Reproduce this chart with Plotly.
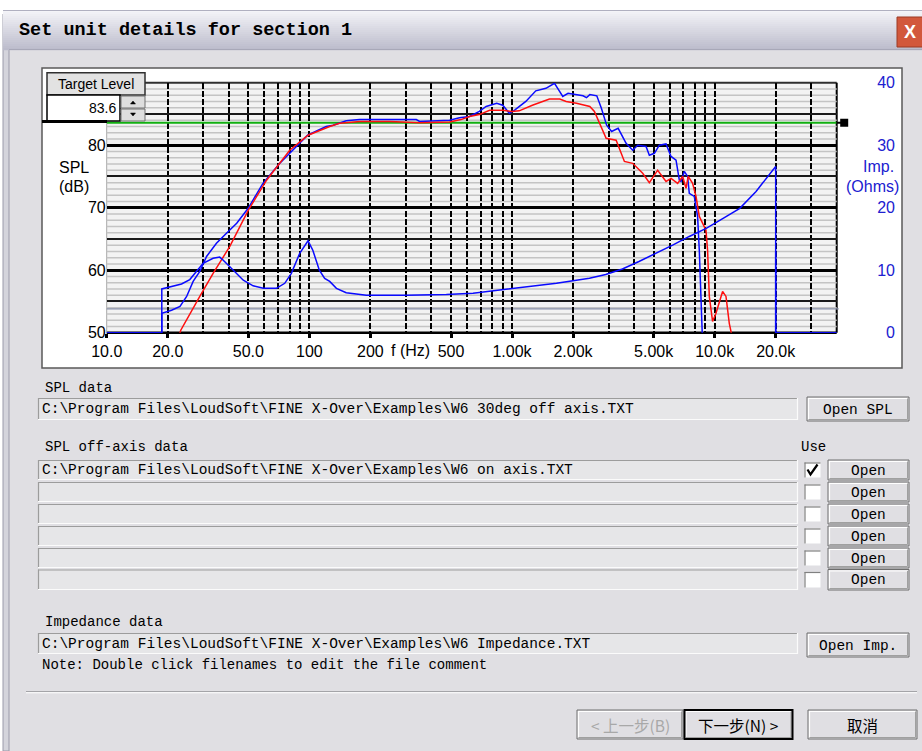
import math
import plotly.graph_objects as go

W, H = 922, 751

# ---------------- data ----------------
# Main SPL data (W6 30deg off axis) - red
SPL30_F = [22.0, 23.2, 28.8, 33.5, 40.5, 50, 61.5, 80, 98.5, 126, 141, 178, 250, 350, 492, 560,
           617, 690, 775, 900, 1000, 1085, 1260, 1530, 1720, 1850, 2080, 2420, 2550, 2700,
           2913, 3264, 3585, 3940, 4412, 4760, 5231, 5754, 6090, 6565, 6948, 7222, 7400,
           7782, 8088, 8395, 9057, 9226, 9406, 9764, 10148, 10940, 11370, 11803, 12032, 12400]
SPL30_DB = [48.0, 50.4, 55.8, 59.5, 63.8, 69.6, 74.4, 79.2, 81.6, 83.0, 83.5, 83.8, 83.8, 83.6, 83.7, 84.1,
            84.6, 84.9, 85.6, 85.6, 85.4, 85.5, 86.4, 87.4, 87.4, 87.0, 86.7, 86.2, 85.4, 83.5,
            81.1, 80.8, 77.4, 77.1, 75.5, 74.0, 76.0, 74.2, 74.7, 73.9, 75.0, 73.1, 75.0,
            73.9, 71.8, 68.6, 66.4, 63.2, 55.8, 51.8, 53.1, 56.6, 55.8, 51.5, 50.2, 47.0]

# Off-axis data (W6 on axis) - blue
ONAX_F = [10, 18.7, 18.7, 20.9, 23.0, 24.8, 26.7, 28.8, 31.1, 34.8, 39, 43.8, 49.9, 59, 71.5, 83,
          98, 121, 131, 152, 177, 240, 337, 350, 420, 492, 550, 617, 690, 745, 840, 900, 970,
          1030, 1170, 1310, 1470, 1620, 1680, 1780, 1890, 2040, 2240, 2330, 2420, 2620, 2760,
          2930, 3100, 3340, 3655, 3940, 4170, 4586, 4760, 5040, 5333, 5754, 6090, 6446, 6692,
          6823, 7083, 7353, 7494, 7930, 8236, 8395, 8716, 8900, 19999, 20000, 20000, 40000]
ONAX_DB = [50, 50, 53.1, 53.6, 54.2, 55.8, 58.2, 59.8, 62.2, 64.3, 65.9, 67.5, 69.9, 73.9, 77.1, 79.2,
           81.6, 83.0, 83.2, 83.9, 84.1, 84.1, 84.1, 83.8, 83.9, 84.0, 84.4, 84.6, 85.4, 86.2, 86.7, 86.4, 85.1,
           85.6, 87.0, 88.7, 89.1, 89.9, 89.1, 87.8, 88.3, 88.1, 87.9, 87.6, 88.1, 87.9, 85.9,
           83.2, 82.2, 82.7, 80.3, 79.2, 80.0, 79.8, 78.4, 78.7, 80.0, 80.2, 78.2, 77.6, 74.4,
           74.2, 75.8, 75.0, 72.3, 71.8, 68.6, 63.2, 50.4, 40.0, 40.0, 63.0, 50.0, 50.0]

# Impedance data (W6 Impedance) - blue, right axis
IMP_F = [10, 18.7, 18.7, 20.9, 23.4, 25.7, 27.8, 29.9, 33.5, 36.1, 37.6, 42, 47.2, 52.8, 59.3, 68.8,
         75.6, 81.5, 89.6, 98.5, 104, 112, 119, 126, 136, 152, 191, 300, 474, 642, 935, 1370,
         1657, 2000, 2410, 2900, 3505, 4230, 5146, 6200, 7494, 9080, 10900, 13300, 16000, 19400,
         20000, 20000, 40000]
IMP_OHM = [0, 0, 7.0, 7.4, 7.8, 8.5, 9.8, 11.1, 11.9, 12.1, 11.6, 10.0, 8.4, 7.5, 7.1, 7.1,
           7.9, 9.5, 12.7, 14.7, 13.2, 10.0, 8.7, 8.2, 7.1, 6.4, 6.0, 6.0, 6.1, 6.3, 7.0, 7.6,
           7.9, 8.3, 8.7, 9.3, 10.2, 11.4, 12.7, 14.0, 15.4, 16.7, 18.2, 19.9, 22.6, 25.9,
           26.6, 0, 0]

TARGET_LEVEL = 83.6
X_RANGE = [1, math.log10(40000)]
SPL_RANGE = [50, 90]
IMP_RANGE = [0, 40]

X_TICKS = [10, 20, 50, 100, 200, 500, 1000, 2000, 5000, 10000, 20000]
X_TICKTEXT = ["10.0", "20.0", "50.0", "100", "200", "500", "1.00k", "2.00k", "5.00k", "10.0k", "20.0k"]
X_GRID = [20, 30, 40, 50, 60, 70, 80, 90, 100, 200, 300, 400, 500, 600, 700, 800, 900,
          1000, 2000, 3000, 4000, 5000, 6000, 7000, 8000, 9000, 10000, 20000, 30000]
SPL_TICKS = [50, 60, 70, 80]
SPL_FINE = [d for d in range(51, 90) if d % 5 != 0]
IMP_TICKS = [0, 10, 20, 30, 40]
IMP_HALF = [5, 15, 25, 35]
REF_LINE_DB = 53.8

SPL_FILE = r"C:\Program Files\LoudSoft\FINE X-Over\Examples\W6 30deg off axis.TXT"
OFFAXIS_FILES = [r"C:\Program Files\LoudSoft\FINE X-Over\Examples\W6 on axis.TXT", "", "", "", "", ""]
OFFAXIS_USE = [True, False, False, False, False, False]
IMP_FILE = r"C:\Program Files\LoudSoft\FINE X-Over\Examples\W6 Impedance.TXT"

# ---------------- styling helpers ----------------
BODY = "#e0dfe3"
FIELD = "#e6e6e8"
BLUE = "#0a0aff"
LBL_BLUE = "#2020d0"
UI_FONT = "Liberation Mono"
AX_FONT = "Liberation Sans"

PLOT_X0, PLOT_X1 = 106.7, 836.7
PLOT_Y0, PLOT_Y1 = 82.7, 332.7
DB_PER_PX = (SPL_RANGE[1] - SPL_RANGE[0]) / (PLOT_Y1 - PLOT_Y0)

def px(x):
    return x / W

def py(y):
    return 1 - y / H

shapes = []
annotations = []

def rect(x0, y0, x1, y1, fill=None, line=None, lw=1.0, layer="below"):
    shapes.append(dict(type="rect", xref="paper", yref="paper",
                       x0=px(x0), x1=px(x1), y0=py(y1), y1=py(y0),
                       fillcolor=fill or "rgba(0,0,0,0)",
                       line=dict(color=line or "rgba(0,0,0,0)", width=lw if line else 0),
                       layer=layer))

def seg(x0, y0, x1, y1, color, lw=1.0, layer="below"):
    shapes.append(dict(type="line", xref="paper", yref="paper",
                       x0=px(x0), x1=px(x1), y0=py(y0), y1=py(y1),
                       line=dict(color=color, width=lw), layer=layer))

def poly(points, fill=None, line=None, lw=1.0, layer="above", closed=True):
    d = "M " + " L ".join(f"{px(x):.5f},{py(y):.5f}" for x, y in points) + (" Z" if closed else "")
    shapes.append(dict(type="path", xref="paper", yref="paper", path=d,
                       fillcolor=fill or "rgba(0,0,0,0)",
                       line=dict(color=line or "rgba(0,0,0,0)", width=lw if line else 0),
                       layer=layer))

def text(x, y, s, size=14, color="black", family=UI_FONT, anchor="left"):
    annotations.append(dict(xref="paper", yref="paper", x=px(x), y=py(y), text=s,
                            showarrow=False, xanchor=anchor, yanchor="middle",
                            font=dict(family=family, size=size, color=color)))

def button(x0, y0, x1, y1, label, layer="below", color="black", family=UI_FONT, size=14.5,
           default=False):
    rect(x0, y0, x1, y1, fill=BODY, line="#6e6e6e", lw=1, layer=layer)
    seg(x0 + 1, y0 + 1.5, x1 - 1.5, y0 + 1.5, "white", 1.2, layer)
    seg(x0 + 1.5, y0 + 1, x0 + 1.5, y1 - 1.5, "white", 1.2, layer)
    seg(x0 + 1.5, y1 - 1.5, x1 - 1.5, y1 - 1.5, "#a0a0a0", 1, layer)
    seg(x1 - 1.5, y0 + 1.5, x1 - 1.5, y1 - 1.5, "#a0a0a0", 1, layer)
    if default:
        rect(x0, y0, x1, y1, line="black", lw=2, layer=layer)
    text((x0 + x1) / 2, (y0 + y1) / 2 + 0.5, label, size=size, color=color, family=family, anchor="center")

def field(x0, y0, x1, y1, s=""):
    rect(x0, y0, x1, y1, fill=FIELD)
    seg(x0, y0 + 0.5, x1, y0 + 0.5, "#9c9c9c", 1.2)
    seg(x0 + 0.5, y0, x0 + 0.5, y1, "#9c9c9c", 1.2)
    seg(x0, y1 - 0.5, x1, y1 - 0.5, "#fbfbfb", 1.2)
    seg(x1 - 0.5, y0, x1 - 0.5, y1, "#fbfbfb", 1.2)
    if s:
        text(x0 + 2, (y0 + y1) / 2, s, size=14.5)

# ---------------- dialog chrome ----------------
rect(9, 49, 922, 751, fill=BODY)
rect(3, 14, 9, 751, fill="#d4d4dc", line="#9a9aaa", lw=1)
n = 20
top_c, bot_c = (244, 244, 248), (188, 188, 204)
for i in range(n):
    t = i / (n - 1)
    c = tuple(int(round(top_c[k] + (bot_c[k] - top_c[k]) * t)) for k in range(3))
    rect(3, 10 + i * 2, 922, 10 + i * 2 + 2.2, fill=f"rgb{c}")
seg(3, 10.5, 922, 10.5, "#b0b0c0", 1)
seg(9, 49.5, 922, 49.5, "#a8a8b8", 1)
text(17, 31, "<b>Set unit details for section 1</b>", size=18.5)
rect(897, 17, 924, 47, fill="#d2583c", line="#9c3a24", lw=1)
text(910, 32, "<b>X</b>", size=18, color="white", family=AX_FONT, anchor="center")

# chart panel and plot area
rect(42, 68, 902, 368, fill="white", line="#5a5a5a", lw=1.5)
rect(PLOT_X0, PLOT_Y0, PLOT_X1, PLOT_Y1, fill="#f3f3f3")
seg(PLOT_X0, PLOT_Y0, PLOT_X1, PLOT_Y0, "#303030", 2)
seg(PLOT_X1, PLOT_Y0, PLOT_X1, PLOT_Y1, "black", 2)
seg(PLOT_X0, PLOT_Y1, PLOT_X1, PLOT_Y1, "black", 2.5)
seg(PLOT_X0, PLOT_Y0, PLOT_X0, PLOT_Y1, "#a8a8a8", 1)
# fine 1 dB lines (below the dashed frequency grid)
for d in SPL_FINE:
    shapes.append(dict(type="line", xref="paper", yref="y", x0=px(PLOT_X0), x1=px(PLOT_X1),
                       y0=d, y1=d, line=dict(color="#c4c4c4", width=1.4), layer="below"))
# slate reference line
shapes.append(dict(type="line", xref="paper", yref="y", x0=px(PLOT_X0), x1=px(PLOT_X1 + 2),
                   y0=REF_LINE_DB, y1=REF_LINE_DB, line=dict(color="#8890a8", width=1.2), layer="below"))
# target marker square just right of the plot
half = 4 * DB_PER_PX
shapes.append(dict(type="line", xref="paper", yref="y", x0=px(PLOT_X1), x1=px(PLOT_X1 + 8),
                   y0=TARGET_LEVEL, y1=TARGET_LEVEL, line=dict(color="black", width=2), layer="above"))
shapes.append(dict(type="rect", xref="paper", yref="y", x0=px(PLOT_X1 + 3.5), x1=px(PLOT_X1 + 11.5),
                   y0=TARGET_LEVEL - half, y1=TARGET_LEVEL + half, fillcolor="black",
                   line=dict(width=0), layer="above"))

# Target level widgets (above the grid)
rect(47, 72.7, 145, 95, fill="#e2e2e2", line="#303030", lw=1.5, layer="above")
rect(47, 95, 120, 121, fill="white", line="black", lw=1.5, layer="above")
seg(42, 121.5, 107, 121.5, "black", 3, layer="above")
rect(121, 96, 145, 108, fill="#dedede", line="#707070", lw=1, layer="above")
rect(121, 109, 145, 121, fill="#dedede", line="#707070", lw=1, layer="above")
poly([(130.5, 104), (135.5, 104), (133, 101)], fill="black", line="black", lw=0.5)
poly([(130.5, 113), (135.5, 113), (133, 116)], fill="black", line="black", lw=0.5)
text(96, 84, "Target Level", size=14, family=AX_FONT, anchor="center")
text(118, 108, f"{TARGET_LEVEL:.1f}", size=14, family=AX_FONT, anchor="right")

# axis titles
text(73.5, 168, "SPL", size=16, family=AX_FONT, anchor="center")
text(73.5, 186.5, "(dB)", size=16, family=AX_FONT, anchor="center")
text(878, 167, "Imp.", size=16, family=AX_FONT, color=LBL_BLUE, anchor="center")
text(872, 186, "(Ohms)", size=16, family=AX_FONT, color=LBL_BLUE, anchor="center")
annotations.append(dict(xref="x", yref="paper", x=math.log10(316), y=py(351), text="f (Hz)",
                        showarrow=False, xanchor="center", yanchor="middle",
                        font=dict(family=AX_FONT, size=16, color="black")))

# ---------------- lower controls ----------------
text(43, 388, "SPL data")
field(38, 398, 798, 420, SPL_FILE)
button(807, 397, 909, 421, "Open SPL")

text(43, 447, "SPL off-axis data")
text(799, 447, "Use")
ROWS = [(460, 480), (482, 502), (504, 524), (526, 546), (548, 568), (569.5, 590)]
for (y0, y1), fname, use in zip(ROWS, OFFAXIS_FILES, OFFAXIS_USE):
    field(38, y0, 798, y1, fname)
    cy0, cy1 = y0 + 2.5, y1 - 2.5
    rect(804.5, cy0, 820.5, cy1, fill="white")
    seg(804.5, cy0 + 0.5, 820.5, cy0 + 0.5, "#808080", 1.2)
    seg(805, cy0, 805, cy1, "#808080", 1.2)
    if use:
        poly([(807.5, 469.5), (810.5, 474.5), (817.5, 464.5)], line="black", lw=2.2,
             layer="below", closed=False)
    button(828, y0, 909, y1, "Open")

text(43, 622, "Impedance data")
field(38, 633, 798, 654, IMP_FILE)
button(807, 633, 909, 657, "Open Imp.")
text(40, 665, "Note: Double click filenames to edit the file comment")

seg(26, 691.5, 917, 691.5, "#a4a4a8", 1)
seg(26, 692.8, 917, 692.8, "#ffffff", 1)

CJK = "Noto Sans CJK SC"
button(577, 710, 683, 739, "&lt; 上一步(B)", color="#a8a8a8", family=CJK, size=15.5)
button(684.5, 710, 792.5, 739, "下一步(N) &gt;", family=CJK, size=15.5, default=True)
button(808, 710, 917, 739, "取消", family=CJK, size=15.5)

# ---------------- traces ----------------
fig = go.Figure()
fig.add_trace(go.Scatter(x=[10, 40000], y=[TARGET_LEVEL, TARGET_LEVEL], mode="lines",
                         line=dict(color="#12b012", width=2), hoverinfo="skip"))
fig.add_trace(go.Scatter(x=IMP_F, y=IMP_OHM, mode="lines", yaxis="y2",
                         line=dict(color=BLUE, width=1.5)))
fig.add_trace(go.Scatter(x=ONAX_F, y=ONAX_DB, mode="lines",
                         line=dict(color=BLUE, width=1.5)))
fig.add_trace(go.Scatter(x=SPL30_F, y=SPL30_DB, mode="lines",
                         line=dict(color="#ff1010", width=1.5)))

fig.update_layout(
    width=W, height=H,
    margin=dict(l=0, r=0, t=0, b=0, pad=0, autoexpand=False),
    paper_bgcolor="white",
    plot_bgcolor="rgba(0,0,0,0)",
    showlegend=False,
    shapes=shapes,
    annotations=annotations,
    xaxis=dict(
        type="log", range=X_RANGE, domain=[px(PLOT_X0), px(PLOT_X1)], automargin=False,
        tickmode="array", tickvals=X_TICKS, ticktext=X_TICKTEXT,
        ticks="outside", ticklen=4, tickwidth=3, tickcolor="black",
        tickfont=dict(family=AX_FONT, size=16, color="black"),
        showgrid=False, zeroline=False, showline=False,
        minor=dict(tickmode="array", tickvals=X_GRID, showgrid=True, gridcolor="black",
                   griddash="6px,2px", gridwidth=1.6, ticks=""),
        fixedrange=True,
    ),
    yaxis=dict(
        range=SPL_RANGE, domain=[py(PLOT_Y1), py(PLOT_Y0)], automargin=False,
        tickmode="array", tickvals=SPL_TICKS, ticks="",
        tickfont=dict(family=AX_FONT, size=16, color="black"),
        showgrid=True, gridcolor="black", gridwidth=3,
        zeroline=False, showline=False,
        fixedrange=True,
    ),
    yaxis2=dict(
        range=IMP_RANGE, overlaying="y", anchor="free", side="left", position=px(895),
        automargin=False,
        tickmode="array", tickvals=IMP_TICKS, ticks="",
        tickfont=dict(family=AX_FONT, size=16, color=LBL_BLUE),
        showgrid=False, zeroline=False, showline=False,
        minor=dict(tickmode="array", tickvals=IMP_HALF, showgrid=True,
                   gridcolor="#1a1a1a", gridwidth=2, ticks=""),
        fixedrange=True,
    ),
)

fig.write_html("out.html")
